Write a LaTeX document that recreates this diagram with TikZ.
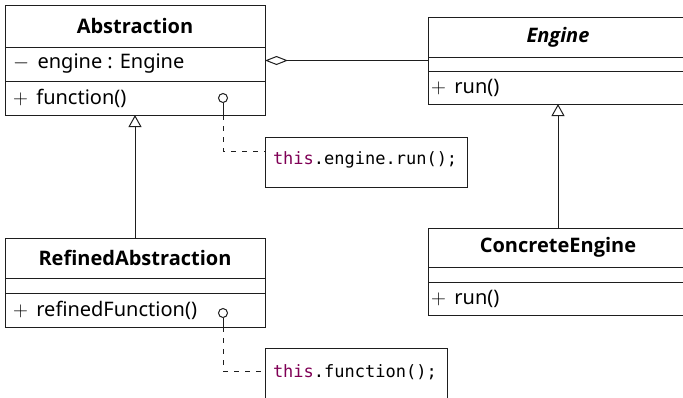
\documentclass[tikz,border=0pt]{standalone}
\usepackage{fontspec}
\setmainfont{Noto Sans}
\newfontfamily\titlefont{Open Sans}
\setmonofont{DejaVu Sans Mono}
\usetikzlibrary{arrows.meta}
\definecolor{kw}{RGB}{127,0,85}
\definecolor{ln}{RGB}{30,30,30}
\newcommand{\umlsym}[1]{$#1$\hspace{8.5bp}}
\begin{document}
\begin{tikzpicture}[x=1bp,y=-1bp,
  every node/.style={inner sep=0pt, outer sep=0pt},
  cls/.style={draw=ln, line width=1bp, anchor=north west, minimum width=260bp},
  note/.style={draw=ln, line width=1bp, anchor=north west},
  sep/.style={draw=ln, line width=1bp},
  ttl/.style={font=\fontsize{20bp}{24bp}\titlefont\bfseries},
  ttli/.style={font=\fontsize{20bp}{24bp}\titlefont\bfseries\itshape},
  mem/.style={font=\fontsize{20bp}{24bp}\selectfont, anchor=west},
  code/.style={font=\fontsize{17bp}{20bp}\selectfont\ttfamily, anchor=west},
  lolli/.style={circle, draw=ln, line width=1bp, minimum size=9bp, fill=white},
  conn/.style={draw=ln, line width=1bp},
  notelink/.style={draw=ln, line width=1bp, dash pattern=on 5bp off 6bp},
  inherit/.style={conn, -{Triangle[open, length=12bp, width=13bp]}},
  aggr/.style={conn, -{Diamond[open, length=23bp, width=9bp]}}
]
\path[use as bounding box] (0,0) rectangle (683,397);
\clip (0,0) rectangle (683,397);

% Abstraction
\node[cls, minimum height=110bp] (abs) at (5,5) {};
\draw[sep] (abs.west |- 0,47) -- (abs.east |- 0,47);
\draw[sep] (abs.west |- 0,81) -- (abs.east |- 0,81);
\node[ttl] (absT) at (135,26) {Abstraction};
\node[mem] (absA) at (13,64) {\umlsym{-}engine : Engine};
\node[mem] (absM) at (13,98) {\umlsym{+}function()};

% Engine
\node[cls, minimum height=87bp] (eng) at (428,17) {};
\draw[sep] (eng.west |- 0,57) -- (eng.east |- 0,57);
\draw[sep] (eng.west |- 0,71) -- (eng.east |- 0,71);
\node[ttli] (engT) at (558,37) {Engine};
\node[mem] (engM) at (431,87.5) {\umlsym{+}run()};

% RefinedAbstraction
\node[cls, minimum height=89bp] (ref) at (5,238) {};
\draw[sep] (ref.west |- 0,278) -- (ref.east |- 0,278);
\draw[sep] (ref.west |- 0,293) -- (ref.east |- 0,293);
\node[ttl] (refT) at (135,258) {RefinedAbstraction};
\node[mem] (refM) at (13,310) {\umlsym{+}refinedFunction()};

% ConcreteEngine
\node[cls, minimum height=87bp] (con) at (428,228) {};
\draw[sep] (con.west |- 0,267) -- (con.east |- 0,267);
\draw[sep] (con.west |- 0,282) -- (con.east |- 0,282);
\node[ttl] (conT) at (558,247.5) {ConcreteEngine};
\node[mem] (conM) at (431,298.5) {\umlsym{+}run()};

% Notes
\node[note, minimum width=202bp, minimum height=50bp] (n1) at (265,137) {};
\node[code] (n1t) at (273,160) {\textcolor{kw}{this}.engine.run();};
\node[note, minimum width=182bp, minimum height=50bp] (n2) at (265,348) {};
\node[code] (n2t) at (273,372) {\textcolor{kw}{this}.function();};

% Lollipops
\node[lolli] (lp1) at (223,98) {};
\node[lolli] (lp2) at (223,313) {};
\draw[conn] (lp1.south) -- (lp1.south |- abs.south);
\draw[notelink] (lp1.south |- abs.south) |- ([yshift=11bp]n1.west);
\draw[conn] (lp2.south) -- (lp2.south |- ref.south);
\draw[notelink] (lp2.south |- ref.south) |- ([yshift=2bp]n2.west);

% Relations
\draw[aggr] (eng.west) -- (eng.west -| abs.east);
\draw[inherit] (ref.north) -- (ref.north |- abs.south);
\draw[inherit] (con.north) -- (con.north |- eng.south);
\end{tikzpicture}
\end{document}
